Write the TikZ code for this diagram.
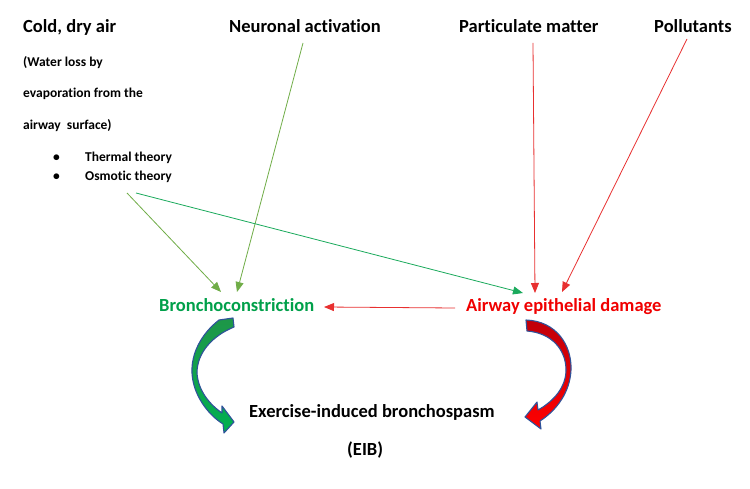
\documentclass[tikz,border=0pt]{standalone}
\usepackage{fontspec}
\setmainfont[Ligatures={NoCommon}]{Carlito}
\usetikzlibrary{arrows.meta}
\definecolor{olivegr}{HTML}{70AD47}
\definecolor{tealgr}{HTML}{1AAA5C}
\definecolor{bcgreen}{HTML}{00A04A}
\definecolor{aired}{HTML}{F00000}
\definecolor{linered}{HTML}{E83030}
\definecolor{outlineblue}{HTML}{2F529A}
\begin{document}
\begin{tikzpicture}[x=1pt,y=-1pt,
  big/.style={font=\fontsize{18.5}{22}\selectfont\bfseries, inner sep=0pt, anchor=base west},
  small/.style={font=\fontsize{13.5}{16}\selectfont\bfseries, inner sep=0pt, anchor=base west},
  conn/.style={line width=0.8pt, -{Triangle[length=10pt,width=8pt]}},
  curvarrow/.style={draw=outlineblue, line width=1.1pt, line join=round}
]
\fill[white] (0,0) rectangle (750,489);
\useasboundingbox (0,0) rectangle (750,489);

% top labels
\node[big] (cold) at (23,33) {Cold, dry air};
\node[small] (w1) at (23,67) {(Water loss by};
\node[small] (w2) at (23,98) {evaporation from the};
\node[small] (w3) at (23,130) {airway\ \ surface)};
\node[small] (b1) at (53,162) {\textbullet};
\node[small] (th) at (85,162) {Thermal theory};
\node[small] (b2) at (53,181) {\textbullet};
\node[small] (os) at (85,181) {Osmotic theory};

\node[big] (neu) at (229,33) {Neuronal activation};
\node[big] (pm) at (459,33) {Particulate matter};
\node[big] (pol) at (654,33) {Pollutants};

\node[big, text=bcgreen] (bc) at (159,312) {Bronchoconstriction};
\node[big, text=aired] (aed) at (466,312) {Airway epithelial damage};

\node[big] (eib) at (249,417) {Exercise-induced bronchospasm};
\node[big] (eibab) at (347,455) {(EIB)};

% connector end points
\coordinate (osA) at (127,193);
\coordinate (osB) at (136,193);
\coordinate (neuS) at (303,43);
\coordinate (pmS) at (533,43);
\coordinate (polS) at (687,39);
\coordinate (bcT1) at (221,292);
\coordinate (bcT2) at (237,292);
\coordinate (aedT1) at (523,293);
\coordinate (aedT2) at (535,293);
\coordinate (aedT3) at (562,292);
\coordinate (aedL) at (455,308);
\coordinate (bcR) at (324,307);

\draw[conn, olivegr] (osA) -- (bcT1);
\draw[conn, olivegr] (neuS) -- (bcT2);
\draw[conn, tealgr] (osB) -- (aedT1);
\draw[conn, linered] (pmS) -- (aedT2);
\draw[conn, linered] (polS) -- (aedT3);
\draw[conn, linered] (aedL) -- (bcR);

% curved block arrows
\shade[curvarrow, top color={rgb,255:red,30;green,150;blue,72}, bottom color={rgb,255:red,0;green,176;blue,80}]
  (219,320) .. controls (201,334) and (191,354) .. (192,373)
  .. controls (193,394) and (207,414) .. (223,424)
  -- (224,433) -- (234,422) -- (222,406) -- (222,413)
  .. controls (209,404) and (198,390) .. (197,373)
  .. controls (197,353) and (212,336) .. (234,327)
  -- (233,318) -- cycle;

\shade[curvarrow, top color={rgb,255:red,192;green,0;blue,10}, bottom color={rgb,255:red,255;green,0;blue,0}]
  (526,320) .. controls (556,321) and (572,345) .. (571,370)
  .. controls (570,392) and (557,410) .. (540,421)
  -- (541,429) -- (525,417) -- (537,402) -- (538,410)
  .. controls (554,401) and (566,387) .. (566,370)
  .. controls (566,350) and (552,333) .. (527,331)
  -- cycle;
\end{tikzpicture}
\end{document}
